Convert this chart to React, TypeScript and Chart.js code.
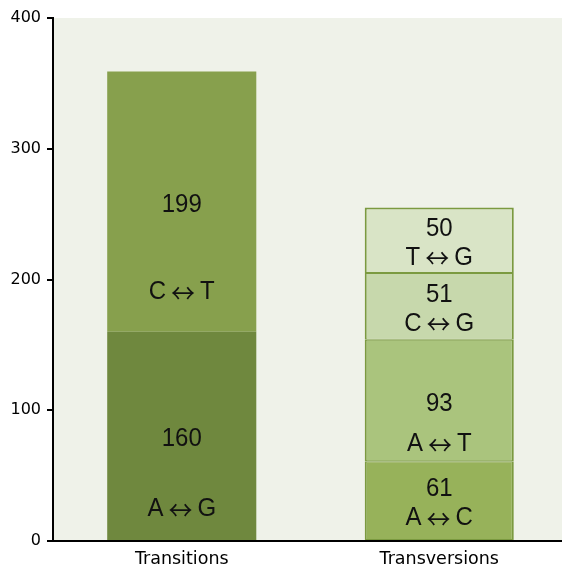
import React, { useEffect, useRef } from "react";
import { Chart, registerables } from "chart.js";

Chart.register(...registerables);

const categories = ["Transitions", "Transversions"];
const seriesNames = ["A ↔ G", "C ↔ T", "A ↔ C", "A ↔ T", "C ↔ G", "T ↔ G"];
const agValues = [160, null];
const ctValues = [199, null];
const acValues = [null, 61];
const atValues = [null, 93];
const cgValues = [null, 51];
const tgValues = [null, 50];
const yTicks = [0, 100, 200, 300, 400];

const fills = ["#6f883e", "#87a04d", "#97b25a", "#aac47d", "#c7d8ac", "#d9e4c6"];
const borders = ["#6f883e", "#87a04d", "#7b9a40", "#7b9a40", "#7b9a40", "#7b9a40"];
const borderWidths: any[] = [
  0,
  0,
  { left: 2, right: 2, top: 1, bottom: 1 },
  { left: 2, right: 2, top: 1, bottom: 1 },
  { left: 2, right: 2, top: 1, bottom: 1 },
  { left: 2, right: 2, top: 2, bottom: 1 },
];

const bgPlugin = {
  id: "plotBg",
  beforeDraw(chart: any) {
    const { ctx, chartArea } = chart;
    ctx.save();
    ctx.fillStyle = "#eff2e9";
    ctx.fillRect(chartArea.left, chartArea.top, chartArea.right - chartArea.left, chartArea.bottom - chartArea.top);
    ctx.restore();
  },
};

const LETTER_FONT = "24px 'Liberation Sans', Arial, sans-serif";
const ARROW_FONT = "24px 'Noto Sans CJK JP', 'DejaVu Sans', sans-serif";

const segTextPlugin = {
  id: "segText",
  afterDatasetsDraw(chart: any) {
    const { ctx } = chart;
    ctx.save();
    ctx.fillStyle = "#111";
    ctx.textBaseline = "middle";
    const drawScaled = (t: string, x: number, y: number, font: string, align: CanvasTextAlign) => {
      ctx.save();
      ctx.font = font;
      ctx.textAlign = align;
      ctx.translate(x, y);
      ctx.scale(1, 1.1);
      ctx.fillText(t, 0, 0);
      ctx.restore();
    };
    const drawLabel = (label: string, x: number, y: number) => {
      const parts = label.split("↔").map((s) => s.trim());
      if (parts.length !== 2) {
        drawScaled(label, x, y, LETTER_FONT, "center");
        return;
      }
      ctx.font = LETTER_FONT;
      const wl = ctx.measureText(parts[0]).width;
      const wr = ctx.measureText(parts[1]).width;
      ctx.font = ARROW_FONT;
      const wa = ctx.measureText("↔").width;
      const gap = 5;
      const total = wl + gap + wa + gap + wr;
      let cx = x - total / 2;
      drawScaled(parts[0], cx, y, LETTER_FONT, "left");
      cx += wl + gap;
      drawScaled("↔", cx, y + 1, ARROW_FONT, "left");
      cx += wa + gap;
      drawScaled(parts[1], cx, y, LETTER_FONT, "left");
    };
    chart.data.datasets.forEach((ds: any, di: number) => {
      const meta = chart.getDatasetMeta(di);
      meta.data.forEach((el: any, i: number) => {
        const v = ds.data[i];
        if (v === null || v === undefined) return;
        const top = el.y;
        const base = el.base;
        const h = base - top;
        const c = (top + base) / 2;
        let vy: number, ly: number;
        if (h >= 100) {
          vy = c + 3;
          ly = c + 0.34 * h + 2;
        } else {
          vy = c - 12;
          ly = c + 17;
        }
        drawScaled(String(v), el.x, vy, LETTER_FONT, "center");
        drawLabel(ds.label, el.x, ly);
      });
    });
    ctx.restore();
  },
};

export default function App() {
  const ref = useRef<HTMLCanvasElement | null>(null);
  useEffect(() => {
    document.body.style.margin = "0";
    document.body.style.overflow = "hidden";
    const seriesValues = [agValues, ctValues, acValues, atValues, cgValues, tgValues];
    const chart = new Chart(ref.current as HTMLCanvasElement, {
      type: "bar",
      data: {
        labels: categories,
        datasets: seriesValues.map((vals, i) => ({
          label: seriesNames[i],
          data: vals,
          backgroundColor: fills[i],
          borderColor: borders[i],
          borderWidth: borderWidths[i],
          borderSkipped: false,
          categoryPercentage: 1,
          barPercentage: 0.579,
        })),
      },
      options: {
        animation: false,
        responsive: true,
        maintainAspectRatio: false,
        layout: { padding: { top: 18, right: 0, left: 0, bottom: 0 } },
        plugins: { legend: { display: false }, tooltip: { enabled: false } },
        scales: {
          x: {
            stacked: true,
            grid: { display: false },
            border: { display: true, color: "#000", width: 2 },
            ticks: {
              color: "#000",
              padding: 0,
              font: { family: "'DejaVu Sans', Verdana, sans-serif", size: 17.5 },
            },
            afterFit: (s: any) => {
              s.height = 27;
            },
          },
          y: {
            stacked: true,
            min: 0,
            max: 400,
            afterBuildTicks: (s: any) => {
              s.ticks = yTicks.map((v) => ({ value: v }));
            },
            grid: { display: true, drawOnChartArea: false, drawTicks: true, tickLength: 6, color: "#000", lineWidth: 2 },
            border: { display: true, color: "#000", width: 2 },
            ticks: {
              color: "#000",
              padding: 6,
              font: { family: "'DejaVu Sans', Verdana, sans-serif", size: 16 },
            },
            afterFit: (s: any) => {
              s.width = 53;
            },
          },
        },
      },
      plugins: [bgPlugin, segTextPlugin],
    });
    return () => chart.destroy();
  }, []);
  return (
    <div style={{ width: 562, height: 568, overflow: "hidden" }}>
      <div style={{ width: 568, height: 568, position: "relative" }}>
        <canvas ref={ref} />
      </div>
    </div>
  );
}
